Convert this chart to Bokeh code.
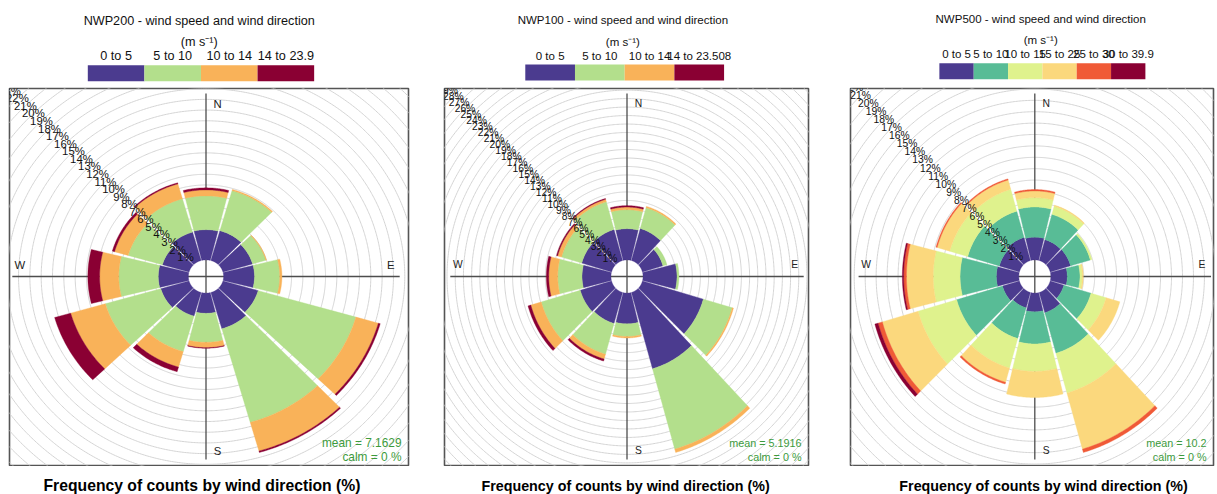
import numpy as np
from bokeh.plotting import figure
from bokeh.layouts import row, column
from bokeh.models import Range1d
from bokeh.embed import file_html
from bokeh.resources import INLINE
from bokeh.core.properties import value

# ---------------- data (percent of counts per direction sector) ----------------
directions = [0, 30, 60, 90, 120, 150, 180, 210, 240, 270, 300, 330]

nwp200_labels = ["0 to 5", "5 to 10", "10 to 14", "14 to 23.9"]
nwp200_0_5 = [2.82, 2.90, 2.72, 2.73, 3.24, 3.53, 1.89, 2.30, 2.60, 2.66, 2.45, 2.76]
nwp200_5_10 = [3.16, 3.90, 1.23, 2.23, 8.98, 9.10, 2.71, 3.45, 5.09, 3.49, 3.15, 3.24]
nwp200_10_14 = [0.56, 0.10, 0.05, 0.19, 2.06, 2.79, 0.50, 1.50, 3.19, 1.69, 1.25, 1.45]
nwp200_14_239 = [0.19, 0.00, 0.00, 0.00, 0.17, 0.13, 0.05, 0.45, 1.47, 1.04, 0.20, 0.10]
nwp200_mean = "7.1629"

nwp100_labels = ["0 to 5", "5 to 10", "10 to 14", "14 to 23.508"]
nwp100_0_5 = [3.67, 3.92, 2.60, 4.14, 7.73, 9.35, 3.62, 3.80, 3.97, 3.53, 3.78, 3.80]
nwp100_5_10 = [2.24, 2.56, 0.50, 0.24, 3.67, 9.85, 1.50, 3.77, 4.96, 2.96, 2.57, 3.40]
nwp100_10_14 = [0.31, 0.15, 0.00, 0.00, 0.15, 0.40, 0.16, 0.59, 1.32, 1.10, 0.50, 0.30]
nwp100_14_23508 = [0.17, 0.00, 0.00, 0.00, 0.00, 0.00, 0.00, 0.24, 0.35, 0.29, 0.13, 0.10]
nwp100_mean = "5.1916"

nwp500_labels = ["0 to 5", "5 to 10", "10 to 15", "15 to 25", "25 to 30", "30 to 39.9"]
nwp500_0_5 = [1.99, 1.90, 1.93, 1.50, 1.30, 1.85, 1.64, 1.40, 1.60, 2.04, 1.90, 2.10]
nwp500_5_10 = [2.65, 2.32, 1.87, 1.16, 2.57, 3.70, 2.82, 2.80, 4.35, 3.31, 3.00, 2.40]
nwp500_10_15 = [0.82, 0.73, 0.15, 0.21, 1.43, 3.63, 2.41, 2.70, 3.65, 2.45, 1.70, 2.00]
nwp500_15_25 = [0.59, 0.10, 0.00, 0.09, 1.30, 5.12, 2.29, 1.30, 3.40, 2.44, 1.20, 0.85]
nwp500_25_30 = [0.12, 0.00, 0.00, 0.00, 0.00, 0.30, 0.00, 0.15, 0.40, 0.25, 0.10, 0.10]
nwp500_30_399 = [0.00, 0.00, 0.00, 0.00, 0.00, 0.00, 0.00, 0.00, 0.30, 0.12, 0.00, 0.00]
nwp500_mean = "10.2"

calm_text = "calm = 0 %"
units_text = "(m s\u207b\u00b9)"
bottom_text = "Frequency of counts by wind direction (%)"

colours_4 = ["#4B3B8F", "#B3DF8C", "#F9B259", "#8A0033"]
colours_6 = ["#4B3B8F", "#58BC96", "#DFF28D", "#FBD87D", "#F05A37", "#8A0033"]

FONT = value("Liberation Sans")

# ---------------- layout constants (screenshot pixels) ----------------
BOX_T, BOX_B, CY = 88, 465, 276
LEG_TOP, LEG_BOT = 0, 87
BOT_TOP, BOT_BOT = 466, 494

panels = [
    dict(title="NWP200 - wind speed and wind direction", labels=nwp200_labels,
         freqs=[nwp200_0_5, nwp200_5_10, nwp200_10_14, nwp200_14_239], mean=nwp200_mean,
         colours=colours_4, col_left=0, col_w=428, box_l=9, box_r=408, cx=205.5,
         bar_left=84, seg=60.7, fs=1.1, dy=0.8),
    dict(title="NWP100 - wind speed and wind direction", labels=nwp100_labels,
         freqs=[nwp100_0_5, nwp100_5_10, nwp100_10_14, nwp100_14_23508], mean=nwp100_mean,
         colours=colours_4, col_left=428, col_w=401, box_l=444, box_r=808, cx=626.5,
         bar_left=517, seg=54.75, fs=1.0, dy=0.0),
    dict(title="NWP500 - wind speed and wind direction", labels=nwp500_labels,
         freqs=[nwp500_0_5, nwp500_5_10, nwp500_10_15, nwp500_15_25, nwp500_25_30, nwp500_30_399],
         mean=nwp500_mean, colours=colours_6, col_left=829, col_w=388, box_l=850, box_r=1213,
         cx=1034.3, bar_left=924, seg=36.7, fs=1.0, dy=-1.2),
]


def plain_fig(w, h, xr, yr):
    f = figure(width=w, height=h, x_range=xr, y_range=yr, x_axis_type=None, y_axis_type=None,
               toolbar_location=None, output_backend="svg", min_border=0)
    f.outline_line_color = None
    f.background_fill_color = "white"
    f.border_fill_color = "white"
    return f


def legend_fig(pp):
    cl, cw, fs, dy = pp["col_left"], pp["col_w"], pp["fs"], pp["dy"]
    f = plain_fig(cw, LEG_BOT - LEG_TOP, Range1d(cl, cl + cw), Range1d(LEG_BOT, LEG_TOP))
    n = len(pp["labels"])
    idx = np.arange(n)
    left = pp["bar_left"] + idx * pp["seg"]
    f.quad(left=left, right=left + pp["seg"], top=64 + dy, bottom=80 + dy,
           fill_color=pp["colours"][:n], line_color=None)
    f.text(left + pp["seg"] / 2, [55 + dy] * n, text=pp["labels"], text_align="center",
           text_baseline="middle", text_font=FONT, text_font_size=f"{11.5 * fs:.2f}px",
           text_color="#111111")
    f.text([pp["cx"] - 2], [41 + dy], text=[units_text], text_align="center",
           text_baseline="middle", text_font=FONT, text_font_size=f"{11.5 * fs:.2f}px",
           text_color="#111111")
    f.text([pp["cx"] - 2], [19.2 + dy], text=[pp["title"]], text_align="center",
           text_baseline="middle", text_font=FONT, text_font_size=f"{11.5 * fs:.2f}px",
           text_color="#111111")
    return f


def rose_fig(pp):
    cl, cw, fs = pp["col_left"], pp["col_w"], pp["fs"]
    l, r, cx = pp["box_l"], pp["box_r"], pp["cx"]
    freqs = np.array(pp["freqs"], dtype=float)
    cum = np.cumsum(freqs, axis=0)
    M = cum[-1].max()
    off = 0.1 * M
    R = 1.133 * M
    hw = (r - l) / 2.0
    hh = (BOX_B - BOX_T) / 2.0
    xr = Range1d(-R * (cx - l) / hw, R * (r - cx) / hw)
    yr = Range1d(-R * (BOX_B - CY) / hh, R * (CY - BOX_T) / hh)
    f = figure(width=cw, height=BOX_B - BOX_T + 2, x_range=xr, y_range=yr,
               x_axis_type=None, y_axis_type=None, toolbar_location=None,
               output_backend="svg", min_border=0)
    f.min_border_left = l - cl
    f.min_border_right = cl + cw - r
    f.min_border_top = 1
    f.min_border_bottom = 1
    f.outline_line_color = "#555555"
    f.outline_line_width = 1.6
    f.background_fill_color = "white"
    f.border_fill_color = "white"

    # grid circles every 1 %
    corner = np.hypot(max(-xr.start, xr.end), max(-yr.start, yr.end))
    K = int(np.ceil(corner - off)) + 1
    th = np.linspace(0, 2 * np.pi, 721)
    ks = np.arange(1, K + 1)
    f.multi_line([list((off + k) * np.sin(th)) for k in ks],
                 [list((off + k) * np.cos(th)) for k in ks],
                 line_color="#D4D4D4", line_width=1)

    # axis cross
    L = M + off
    f.multi_line([[-L, L], [0, 0]], [[0, 0], [-L, L]], line_color="#4D4D4D", line_width=1.3)

    # stacked wedges
    half = 14.0
    xs, ys, cols = [], [], []
    for j in range(freqs.shape[0]):
        for i, d in enumerate(directions):
            r0 = off + (cum[j - 1, i] if j > 0 else 0.0)
            r1 = off + cum[j, i]
            if r1 - r0 <= 1e-9:
                continue
            a = np.radians(np.linspace(d - half, d + half, 41))
            xs.append(list(np.concatenate([r1 * np.sin(a), r0 * np.sin(a[::-1])])))
            ys.append(list(np.concatenate([r1 * np.cos(a), r0 * np.cos(a[::-1])])))
            cols.append(pp["colours"][j])
    f.patches(xs, ys, fill_color=cols, line_color=cols, line_width=0.4)

    # percentage labels along the NW diagonal
    rr = off + ks
    ang = np.radians(315)
    f.text(rr * np.sin(ang), rr * np.cos(ang), text=[f"{k}%" for k in ks],
           text_align="center", text_baseline="middle", text_font=FONT,
           text_font_size=f"{10.3 * fs:.2f}px", text_color="#111111")

    # compass letters
    tfs = f"{10.3 * fs:.2f}px"
    f.text([0], [L], text=["N"], x_offset=11.5, y_offset=10.5, text_align="center",
           text_baseline="middle", text_font=FONT, text_font_size=tfs, text_color="#222222")
    f.text([0], [-L], text=["S"], x_offset=11.5, y_offset=-9, text_align="center",
           text_baseline="middle", text_font=FONT, text_font_size=tfs, text_color="#222222")
    f.text([-L], [0], text=["W"], x_offset=7.5, y_offset=-12, text_align="center",
           text_baseline="middle", text_font=FONT, text_font_size=tfs, text_color="#222222")
    f.text([L], [0], text=["E"], x_offset=-9, y_offset=-12, text_align="center",
           text_baseline="middle", text_font=FONT, text_font_size=tfs, text_color="#222222")

    # mean / calm
    gfs = f"{10.8 * fs:.2f}px"
    f.text([xr.end], [yr.start], text=[f"mean = {pp['mean']}"], x_offset=-7, y_offset=-23,
           text_align="right", text_baseline="middle", text_font=FONT, text_font_size=gfs,
           text_color="#3C9A3C")
    f.text([xr.end], [yr.start], text=[calm_text], x_offset=-7, y_offset=-8.5,
           text_align="right", text_baseline="middle", text_font=FONT, text_font_size=gfs,
           text_color="#3C9A3C")
    return f


def bottom_fig(pp):
    cl, cw, fs = pp["col_left"], pp["col_w"], pp["fs"]
    f = plain_fig(cw, BOT_BOT - BOT_TOP, Range1d(cl, cl + cw), Range1d(BOT_BOT, BOT_TOP))
    f.text([pp["cx"] + 1], [485], text=[bottom_text], text_align="center",
           text_baseline="middle", text_font=FONT, text_font_style="bold",
           text_font_size=f"{14.3 * fs:.2f}px", text_color="#000000")
    return f


cols = [column(legend_fig(pp), rose_fig(pp), bottom_fig(pp)) for pp in panels]
layout = row(*cols)

open("out.html", "w").write(file_html(layout, INLINE))
